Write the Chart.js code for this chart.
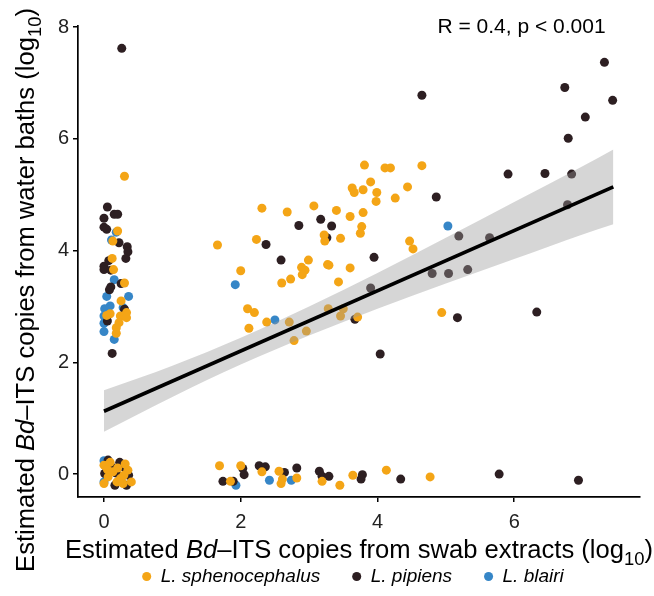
<!DOCTYPE html>
<html><head><meta charset="utf-8">
<script src="https://cdn.jsdelivr.net/npm/chart.js@4/dist/chart.umd.min.js"></script>
<style>html,body{margin:0;padding:0;background:#fff;}#wrap{width:654px;height:596px;}</style>
</head><body><div id="wrap"><canvas id="c" width="654" height="596"></canvas></div>
<script>
// ---------- data ----------
const speciesNames = ["L. sphenocephalus", "L. pipiens", "L. blairi"];
const speciesColors = ["#F4A516", "#2D1F22", "#3686C7"];

// [swab log10, water-bath log10]
const sphenocephalus = [
  [0.30,5.33],[0.20,4.35],[0.13,4.17],[0.12,3.86],[0.14,3.66],[0.30,3.42],[0.25,3.10],[0.09,2.87],[0.04,2.84],[0.33,2.89],[0.24,2.83],[0.33,2.80],[0.22,2.71],[0.18,2.62],[0.18,2.52],
  [0.00,0.16],[0.09,0.21],[0.31,0.18],[0.35,0.07],[0.06,-0.05],[0.19,-0.14],[0.28,-0.17],[0.40,-0.14],[0.00,-0.17],[0.13,0.04],[0.20,0.11],[0.29,-0.02],[0.05,0.08],[0.24,-0.08],
  [3.81,5.53],[4.11,5.48],[4.19,5.48],[4.65,5.52],[3.90,5.23],[3.63,5.12],[3.66,5.04],[3.79,5.09],[3.99,5.04],[4.44,5.14],[3.98,4.88],[4.26,4.94],[2.31,4.76],[2.68,4.69],[3.07,4.80],[3.40,4.72],[3.79,4.68],[3.60,4.61],[3.77,4.43],[3.75,4.31],[3.22,4.28],[3.23,4.17],[3.46,4.22],[2.23,4.20],[1.66,4.10],[4.47,4.17],[4.52,4.03],[2.99,3.83],[2.89,3.70],[2.94,3.65],[2.90,3.57],[3.27,3.75],[3.29,3.74],[3.60,3.69],[2.00,3.64],[2.73,3.49],[2.60,3.42],[3.43,3.44],[2.10,2.96],[2.20,2.89],[2.38,2.72],[2.71,2.72],[3.28,2.96],[3.50,2.96],[3.46,2.83],[3.71,2.81],[2.12,2.61],[2.96,2.56],[2.78,2.39],[4.94,2.89],
  [1.69,0.15],[1.85,-0.13],[2.00,0.15],[2.31,0.04],[2.56,0.05],[2.61,-0.09],[2.59,-0.17],[2.82,-0.07],[3.19,-0.13],[3.45,-0.20],[3.64,-0.02],[4.13,0.07],[4.77,-0.05]
];
const pipiens = [
  [0.26,7.62],[0.05,4.78],[0.00,4.58],[0.15,4.65],[0.20,4.65],[0.00,4.42],[0.04,4.38],[0.22,4.14],[0.34,4.07],[0.35,3.98],[0.32,3.86],[0.07,3.82],[0.00,3.72],[0.00,3.66],[0.10,3.65],[0.25,3.41],[0.10,3.35],[0.08,3.30],[0.30,2.95],[0.05,2.74],[0.12,2.16],
  [0.11,0.13],[0.23,0.21],[0.26,-0.05],[0.36,-0.02],[0.01,0.01],[0.16,-0.20],[0.33,-0.20],[0.06,0.25],[0.30,0.12],[0.18,0.02],
  [4.86,4.96],[3.17,4.56],[2.85,4.45],[3.33,4.44],[3.26,4.23],[2.37,4.11],[2.59,3.83],[3.95,3.88],[3.90,3.33],[3.67,2.77],[4.04,2.15],[4.80,3.59],[5.04,3.59],[5.32,3.66],[5.19,4.26],[5.64,4.23],[5.17,2.80],[6.33,2.90],[4.65,6.78],[5.91,5.37],[6.45,5.38],[6.84,5.37],[6.78,4.82],[6.79,6.01],[7.04,6.39],[6.74,6.92],[7.32,7.37],[7.44,6.69],
  [1.74,-0.13],[1.89,-0.13],[2.03,0.10],[2.05,-0.01],[2.27,0.15],[2.36,0.13],[2.64,0.03],[2.82,0.11],[3.15,0.05],[3.19,-0.04],[3.29,-0.04],[3.78,-0.01],[3.76,-0.09],[4.34,-0.09],[5.78,0.00],[6.94,-0.11]
];
const blairi = [
  [0.18,4.33],[0.11,4.19],[0.15,3.48],[0.04,3.18],[0.36,3.18],[0.09,3.01],[0.01,2.96],[0.28,2.98],[0.00,2.83],[0.00,2.70],[0.00,2.55],[0.15,2.41],
  [0.00,0.24],[0.00,-0.14],
  [1.92,3.39],[2.50,2.76],[5.03,4.44],
  [1.93,-0.20],[2.42,-0.11],[2.74,-0.11]
];

// regression line and 95% confidence band
const fitX = [0, 7.45];
const fitY = [1.125, 5.14];
const bandX = [0, 1, 2, 3, 4, 5, 6, 7, 7.45];
const bandUpper = [1.50, 1.94, 2.44, 3.00, 3.60, 4.23, 4.87, 5.51, 5.81];
const bandLower = [0.76, 1.38, 1.96, 2.48, 2.96, 3.41, 3.85, 4.29, 4.47];

const xTicks = [0, 2, 4, 6];
const yTicks = [0, 2, 4, 6, 8];
const annotation = "R = 0.4, p < 0.001";

// ---------- chart ----------
const FONT = '"Liberation Sans", Arial, Helvetica, sans-serif';
const pts = arr => arr.map(p => ({x: p[0], y: p[1]}));
const series = [sphenocephalus, pipiens, blairi];

const datasets = series.map((s, i) => ({
  type: 'scatter', label: speciesNames[i], data: pts(s),
  backgroundColor: speciesColors[i], borderWidth: 0, pointRadius: 4.5,
  pointStyle: 'circle', order: 3
}));
datasets.push({
  type: 'line', label: 'upper', data: bandX.map((x, i) => ({x, y: bandUpper[i]})),
  borderWidth: 0, pointRadius: 0, fill: '+1', backgroundColor: 'rgba(153,153,153,0.4)',
  cubicInterpolationMode: 'monotone', order: 2
});
datasets.push({
  type: 'line', label: 'lower', data: bandX.map((x, i) => ({x, y: bandLower[i]})),
  borderWidth: 0, pointRadius: 0, fill: false, cubicInterpolationMode: 'monotone', order: 2
});
datasets.push({
  type: 'line', label: 'fit', data: fitX.map((x, i) => ({x, y: fitY[i]})),
  borderColor: '#000', borderWidth: 3.6, pointRadius: 0, fill: false, order: 1
});

function drawRich(ctx, segs, size, cx, baseY) {
  const parts = segs.map(s => {
    const fs = s.sub ? size * 0.72 : size;
    const f = (s.italic ? 'italic ' : '') + fs + 'px ' + FONT;
    ctx.font = f;
    return {t: s.t, f, w: ctx.measureText(s.t).width, dy: s.sub ? size * 0.28 : 0};
  });
  const total = parts.reduce((a, p) => a + p.w, 0);
  let x = cx - total / 2;
  ctx.textAlign = 'left';
  ctx.textBaseline = 'alphabetic';
  parts.forEach(p => { ctx.font = p.f; ctx.fillText(p.t, x, baseY + p.dy); x += p.w; });
}

const textPlugin = {
  id: 'texts',
  afterLayout(chart) {
    const l = chart.legend;
    if (l) { l.left += 33; l.right += 33; }
  },
  afterDraw(chart) {
    const ctx = chart.ctx;
    ctx.save();
    ctx.fillStyle = '#000';
    drawRich(ctx, [{t: 'Estimated '}, {t: 'Bd', italic: true}, {t: '\u2013ITS copies from swab extracts (log'}, {t: '10', sub: true}, {t: ')'}], 25.6, 359, 558);
    ctx.save();
    ctx.translate(34, 290);
    ctx.rotate(-Math.PI / 2);
    drawRich(ctx, [{t: 'Estimated '}, {t: 'Bd', italic: true}, {t: '\u2013ITS copies from water baths (log'}, {t: '10', sub: true}, {t: ')'}], 25.6, 0, 0);
    ctx.restore();
    ctx.font = '21px ' + FONT;
    ctx.textAlign = 'center';
    ctx.textBaseline = 'middle';
    ctx.fillText(annotation, 521.5, 27);
    ctx.restore();
  }
};

new Chart(document.getElementById('c'), {
  type: 'scatter',
  data: {datasets},
  plugins: [textPlugin],
  options: {
    responsive: false, animation: false, devicePixelRatio: 1, events: [],
    layout: {padding: {left: 0, right: 14, top: 26, bottom: 0}},
    plugins: {
      tooltip: {enabled: false},
      legend: {
        position: 'bottom',
        labels: {
          filter: item => item.datasetIndex < 3,
          usePointStyle: true, pointStyle: 'circle', boxWidth: 9, boxHeight: 6.4,
          padding: 32, color: '#000',
          font: {family: FONT, size: 19, style: 'italic'}
        }
      }
    },
    scales: {
      x: {
        type: 'linear', min: -0.38, max: 7.84,
        afterBuildTicks: s => { s.ticks = xTicks.map(v => ({value: v})); },
        afterFit: s => { s.height = s.chart.height - 497 - (s.chart.legend ? s.chart.legend.height : 0); },
        grid: {drawOnChartArea: false, drawTicks: true, tickLength: 5, color: '#000', lineWidth: 1.5},
        border: {display: true, color: '#000', width: 1.7},
        ticks: {color: '#222', font: {family: FONT, size: 20}, padding: 8}
      },
      y: {
        type: 'linear', min: -0.41, max: 8.02,
        afterBuildTicks: s => { s.ticks = yTicks.map(v => ({value: v})); },
        afterFit: s => { s.width = 78; },
        grid: {drawOnChartArea: false, drawTicks: true, tickLength: 5, color: '#000', lineWidth: 1.5},
        border: {display: true, color: '#000', width: 1.7},
        ticks: {color: '#222', font: {family: FONT, size: 20}, padding: 4}
      }
    }
  }
});
</script></body></html>
